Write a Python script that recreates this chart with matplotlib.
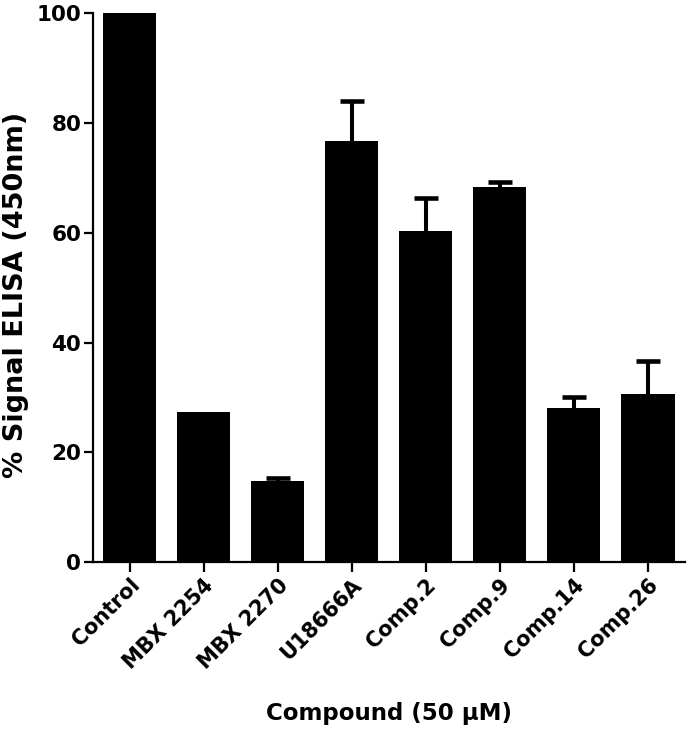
import numpy as np
import matplotlib
matplotlib.use("Agg")
import matplotlib.pyplot as plt

compounds = ["Control", "MBX 2254", "MBX 2270", "U18666A",
             "Comp.2", "Comp.9", "Comp.14", "Comp.26"]
signal = [100.0, 27.3, 14.8, 76.7, 60.4, 68.3, 28.1, 30.7]
sem = [0.0, 0.0, 0.5, 7.3, 5.9, 1.0, 2.0, 5.9]

plt.rcParams['font.family'] = ['DejaVu Sans']
plt.rcParams['font.weight'] = 'bold'

fig = plt.figure(figsize=(6.89, 7.30), dpi=100)
ax = fig.add_axes([0.1345, 0.230, 0.8595, 0.752])

x = np.arange(len(compounds))
ax.bar(x, signal, width=0.72, color='black', zorder=2)

# upward-only error bars, like the GraphPad style
sig = np.array(signal)
err = np.array(sem)
has_err = err > 0
top = sig[has_err] + err[has_err]
ax.vlines(x[has_err], sig[has_err], top, color='black', linewidth=2.9,
          zorder=1)
ax.hlines(top, x[has_err] - 0.165, x[has_err] + 0.165, color='black',
          linewidth=3.3, zorder=1)

ax.set_xlim(-0.5, 7.5)
ax.set_ylim(0, 100)
ax.set_yticks([0, 20, 40, 60, 80, 100])
ax.set_xticks(x)
ax.set_xticklabels(compounds, rotation=45, ha='right', va='top',
                   rotation_mode='anchor', fontsize=15, fontweight='bold')
for lab in ax.get_yticklabels():
    lab.set_fontsize(15.5)
    lab.set_fontweight('bold')

for s in ['top', 'right']:
    ax.spines[s].set_visible(False)
for s in ['left', 'bottom']:
    ax.spines[s].set_linewidth(1.6)
ax.tick_params(axis='y', width=1.6, length=6.7, direction='out', pad=1.5)
ax.tick_params(axis='x', width=1.6, length=7.2, direction='out', pad=2)

ax.set_ylabel("% Signal ELISA (450nm)", fontsize=19.5, fontweight='bold')
ax.yaxis.set_label_coords(-0.13, 0.486)
ax.yaxis.label.set_va('center')
ax.set_xlabel("Compound (50 \u03bcM)", fontsize=16.5, fontweight='bold')
ax.xaxis.set_label_coords(0.5, -0.275)
ax.xaxis.label.set_va('center')

fig.savefig("out.png", dpi=100)
